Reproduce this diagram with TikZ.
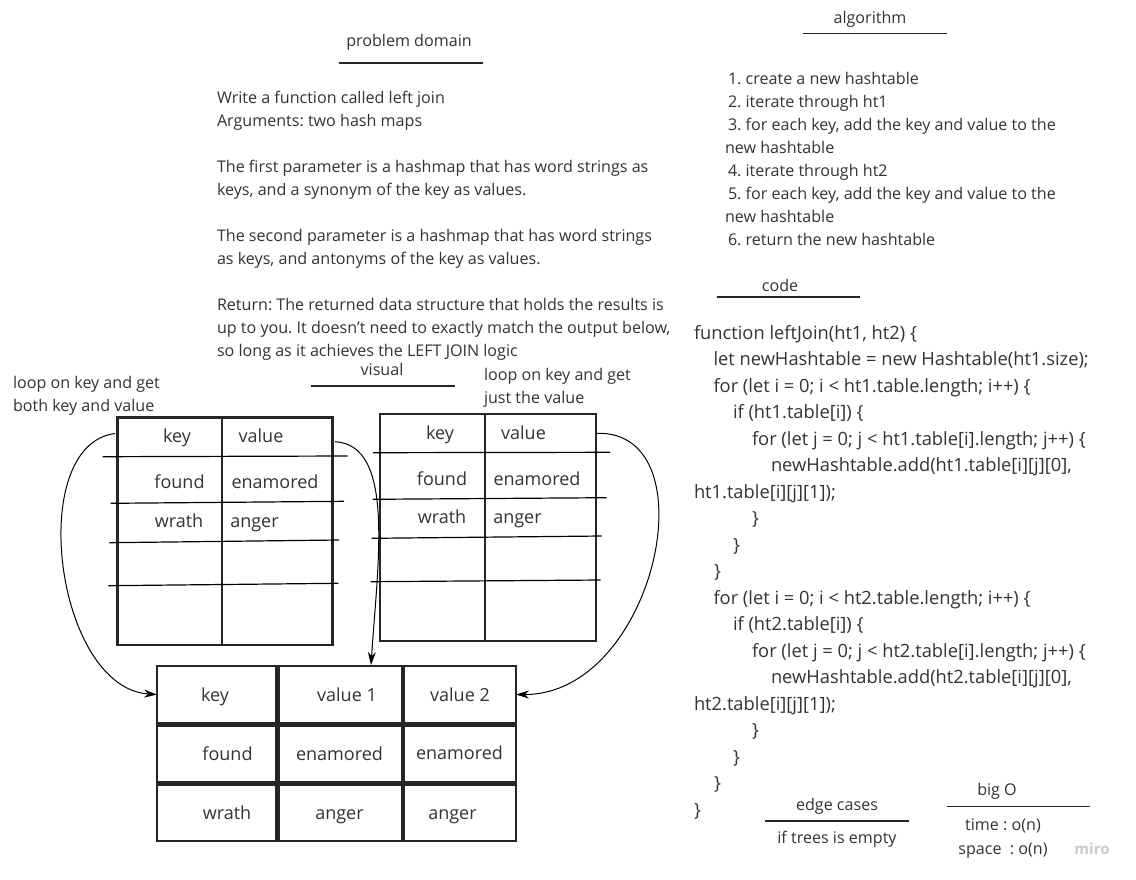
\documentclass[tikz,border=0pt]{standalone}
\usepackage{fontspec}
\setmainfont{Open Sans}
\usetikzlibrary{arrows.meta}
\definecolor{ink}{HTML}{333333}
\definecolor{rule}{HTML}{262626}
\definecolor{miro}{HTML}{C8C8D0}
\tikzset{
 basetxt/.style={inner sep=0pt, outer sep=0pt, text=ink},
 body/.style={basetxt, anchor=base west, font=\fontsize{16.1}{19}\selectfont},
 bodyc/.style={basetxt, anchor=base, font=\fontsize{16.1}{19}\selectfont},
 codeln/.style={basetxt, anchor=base west, font=\fontsize{18.3}{21}\selectfont},
 celltxt/.style={basetxt, anchor=base, font=\fontsize{18}{21}\selectfont},
 hrule/.style={draw=rule, line width=1.3pt},
 handline/.style={draw=black, line width=1.2pt},
 tframe/.style={draw=rule, line width=2.2pt, inner sep=0pt, outer sep=0pt},
 cellbox/.style={draw=rule, line width=2.6pt, inner sep=0pt, outer sep=0pt},
 conn/.style={draw=black, line width=1pt, -{Stealth[length=13pt,width=8pt]}},
 wmark/.style={inner sep=0pt, anchor=base, text=miro, font=\fontsize{15}{18}\selectfont\bfseries}
}
\frenchspacing
\begin{document}
\begin{tikzpicture}[x=1pt,y=-1pt]
\useasboundingbox (0,0) rectangle (1136,879);
\fill[white] (0,0) rectangle (1136,879);

% ---------- problem domain ----------
\node[bodyc] (pdt) at (409,46) {problem domain};
\draw[hrule] (338.5,63) -- (482.5,63);
\node[body] (pd1) at (217,103) {Write a function called left join};
\node[body] (pd2) at (217,126) {Arguments: two hash maps};
\node[body] (pd3) at (217,172) {The first parameter is a hashmap that has word strings as};
\node[body] (pd4) at (217,195) {keys, and a synonym of the key as values.};
\node[body] (pd5) at (217,241) {The second parameter is a hashmap that has word strings};
\node[body] (pd6) at (217,264) {as keys, and antonyms of the key as values.};
\node[body] (pd7) at (217,310) {Return: The returned data structure that holds the results is};
\node[body] (pd8) at (217,333) {up to you. It doesn’t need to exactly match the output below,};
\node[body] (pd9) at (217,356) {so long as it achieves the LEFT JOIN logic};

% ---------- algorithm ----------
\node[bodyc] (alt) at (870,23) {algorithm};
\draw[hrule] (802.5,33.5) -- (946.5,33.5);
\node[body] (al1) at (728,84) {1. create a new hashtable};
\node[body] (al2) at (728,107) {2. iterate through ht1};
\node[body] (al3) at (728,130) {3. for each key, add the key and value to the};
\node[body] (al3b) at (725,153) {new hashtable};
\node[body] (al4) at (728,176) {4. iterate through ht2};
\node[body] (al5) at (728,199) {5. for each key, add the key and value to the};
\node[body] (al5b) at (725,222) {new hashtable};
\node[body] (al6) at (728,245) {6. return the new hashtable};

% ---------- code ----------
\node[bodyc] (cdt) at (780,291) {code};
\draw[hrule] (716.5,297) -- (860,297);
\node[codeln] (c1) at (694,339.3) {function leftJoin(ht1, ht2) \{};
\node[codeln] (c2) at (713.5,365.8) {let newHashtable = new Hashtable(ht1.size);};
\node[codeln] (c3) at (713.5,392.3) {for (let i = 0; i < ht1.table.length; i++) \{};
\node[codeln] (c4) at (733,418.8) {if (ht1.table[i]) \{};
\node[codeln] (c5) at (752,445.3) {for (let j = 0; j < ht1.table[i].length; j++) \{};
\node[codeln] (c6) at (771,471.8) {newHashtable.add(ht1.table[i][j][0],};
\node[codeln] (c7) at (694,498.3) {ht1.table[i][j][1]);};
\node[codeln] (c8) at (752,524.8) {\}};
\node[codeln] (c9) at (733,551.3) {\}};
\node[codeln] (c10) at (714,577.8) {\}};
\node[codeln] (c11) at (713.5,604.3) {for (let i = 0; i < ht2.table.length; i++) \{};
\node[codeln] (c12) at (733,630.8) {if (ht2.table[i]) \{};
\node[codeln] (c13) at (752,657.3) {for (let j = 0; j < ht2.table[i].length; j++) \{};
\node[codeln] (c14) at (771,683.8) {newHashtable.add(ht2.table[i][j][0],};
\node[codeln] (c15) at (694,710.3) {ht2.table[i][j][1]);};
\node[codeln] (c16) at (752,736.8) {\}};
\node[codeln] (c17) at (733,763.3) {\}};
\node[codeln] (c18) at (714,789.8) {\}};
\node[codeln] (c19) at (694,816.3) {\}};

% ---------- edge cases / big O ----------
\node[bodyc] (edt) at (837,810) {edge cases};
\draw[hrule] (765,821) -- (909,821);
\node[bodyc] (ed1) at (837,843) {if trees is empty};
\node[bodyc] (bot) at (997,795) {big O};
\draw[hrule] (946.5,806.5) -- (1090,806.5);
\node[bodyc] (bo1) at (1003,830) {time : o(n)};
\node[bodyc] (bo2) at (1003,854) {space\ \ : o(n)};
\node[wmark] (wm) at (1092,854) {miro};

% ---------- visual ----------
\node[bodyc] (vis) at (382,375) {visual};
\draw[hrule] (311,386) -- (455,386);
\node[body] (lb1) at (13,388) {loop on key and get};
\node[body] (lb2) at (13,411) {both key and value};
\node[body] (lr1) at (484,380) {loop on key and get};
\node[body] (lr2) at (484,403) {just the value};

% table 1
\node[tframe, minimum width=215pt, minimum height=227.5pt] (t1) at (225,531.25) {};
\draw[tframe] (222,417.5) -- (222,645);
\draw[handline] (102.7,456.7) -- (347.7,456);
\draw[handline] (110.7,503.3) -- (344,501.3);
\draw[handline] (109.3,542.7) -- (339,540);
\draw[handline] (108.3,585.7) -- (338.3,583.3);
\node[celltxt] (t1k) at (177,442) {key};
\node[celltxt] (t1v) at (261,442) {value};
\node[celltxt] (t1a) at (179.5,488) {found};
\node[celltxt] (t1b) at (275,488) {enamored};
\node[celltxt] (t1c) at (179,527) {wrath};
\node[celltxt] (t1d) at (254.5,527) {anger};

% table 2
\node[tframe, minimum width=215.7pt, minimum height=227pt] (t2) at (487.85,527.5) {};
\draw[tframe] (485,414) -- (485,641);
\draw[handline] (373,452.7) -- (610,452.3);
\draw[handline] (372.7,499.3) -- (606.7,497.7);
\draw[handline] (371.7,538.3) -- (601.7,536);
\draw[handline] (370.7,581.7) -- (600.7,580);
\node[celltxt] (t2k) at (440,439) {key};
\node[celltxt] (t2v) at (523.5,439) {value};
\node[celltxt] (t2a) at (442,485) {found};
\node[celltxt] (t2b) at (537,485) {enamored};
\node[celltxt] (t2c) at (442,523) {wrath};
\node[celltxt] (t2d) at (517.5,523) {anger};

% table 3 (result)
\node[cellbox, minimum width=119pt, minimum height=57pt] (r11) at (216.5,694.5) {};
\node[cellbox, minimum width=124pt, minimum height=57pt] (r12) at (340.5,694.5) {};
\node[cellbox, minimum width=112.5pt, minimum height=57pt] (r13) at (459.75,694.5) {};
\node[cellbox, minimum width=119pt, minimum height=57pt] (r21) at (216.5,754) {};
\node[cellbox, minimum width=124pt, minimum height=57pt] (r22) at (340.5,754) {};
\node[cellbox, minimum width=112.5pt, minimum height=57pt] (r23) at (459.75,754) {};
\node[cellbox, minimum width=119pt, minimum height=56.5pt] (r31) at (216.5,812.75) {};
\node[cellbox, minimum width=124pt, minimum height=56.5pt] (r32) at (340.5,812.75) {};
\node[cellbox, minimum width=112.5pt, minimum height=56.5pt] (r33) at (459.75,812.75) {};
\node[celltxt] (x11) at (215,701) {key};
\node[celltxt] (x12) at (347,701) {value 1};
\node[celltxt] (x13) at (460,701) {value 2};
\node[celltxt] (x21) at (227.5,760) {found};
\node[celltxt] (x22) at (339.5,760) {enamored};
\node[celltxt] (x23) at (459.5,759) {enamored};
\node[celltxt] (x31) at (227,819) {wrath};
\node[celltxt] (x32) at (339.5,819) {anger};
\node[celltxt] (x33) at (452.5,819) {anger};

% connectors
\coordinate (s1) at (115,433.5);
\coordinate (s2) at (335,441.7);
\coordinate (s3) at (596.7,433.3);
\coordinate (e2) at (371,665);
\draw[conn] (s1) .. controls (25,445) and (55,688) .. (r11.west);
\draw[conn] (s2) .. controls (395,445) and (378,560) .. (e2);
\draw[conn] (s3) .. controls (712,430) and (655,695) .. (r13.east);
\end{tikzpicture}
\end{document}
